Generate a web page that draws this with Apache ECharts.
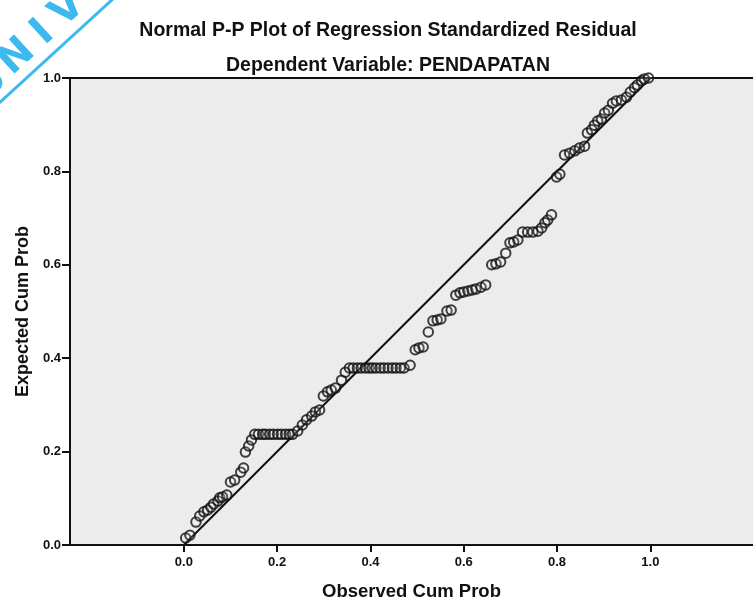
<!DOCTYPE html>
<html>
<head>
<meta charset="utf-8">
<script src="https://cdn.jsdelivr.net/npm/echarts@6/dist/echarts.min.js"></script>
<style>
html,body{margin:0;padding:0;background:#fff;}
#main{width:753px;height:599px;}
</style>
</head>
<body>
<div id="main"></div>
<script>
var titleText = "Normal P-P Plot of Regression Standardized Residual";
var subtitleText = "Dependent Variable: PENDAPATAN";
var xAxisName = "Observed Cum Prob";
var yAxisName = "Expected Cum Prob";
var tickValues = [0, 0.2, 0.4, 0.6, 0.8, 1.0];

var observedCumProb = [
  0.004,0.013,0.026,0.034,0.043,0.051,0.058,0.064,0.073,0.077,0.083,0.092,0.100,0.109,0.122,0.128,0.132,0.139,0.145,
  0.152,0.160,0.169,0.175,0.184,0.192,0.201,0.209,0.218,0.226,0.233,
  0.244,0.254,0.263,0.274,0.282,0.291,0.299,0.308,0.316,0.325,0.338,0.346,
  0.355,0.363,0.372,0.380,0.389,0.397,0.404,0.412,0.421,0.429,0.438,0.447,0.455,0.464,0.472,
  0.485,0.496,0.504,0.513,0.524,0.534,0.543,0.551,0.564,0.573,0.583,0.592,0.600,0.609,0.618,0.626,0.637,0.647,
  0.660,0.669,0.679,0.690,0.699,0.707,0.716,0.726,0.737,0.748,0.759,0.767,0.774,0.780,0.788,
  0.799,0.806,0.816,0.827,0.838,0.848,0.859,0.865,0.874,0.880,0.887,0.895,0.902,0.910,0.919,0.927,0.938,0.949,0.957,0.966,0.972,0.981,0.987,0.996
];
var expectedCumProb = [
  0.015,0.021,0.049,0.062,0.071,0.075,0.081,0.088,0.094,0.101,0.103,0.107,0.135,0.139,0.156,0.165,0.199,0.212,0.225,
  0.237,0.237,0.237,0.237,0.237,0.237,0.237,0.237,0.237,0.237,0.237,
  0.244,0.257,0.268,0.276,0.285,0.289,0.319,0.328,0.332,0.336,0.353,0.370,
  0.379,0.379,0.379,0.379,0.379,0.379,0.379,0.379,0.379,0.379,0.379,0.379,0.379,0.379,0.379,
  0.385,0.418,0.422,0.424,0.456,0.480,0.482,0.484,0.501,0.503,0.535,0.540,0.542,0.544,0.546,0.548,0.552,0.557,
  0.600,0.602,0.606,0.625,0.647,0.649,0.653,0.670,0.670,0.670,0.672,0.679,0.690,0.696,0.707,
  0.788,0.794,0.835,0.839,0.844,0.850,0.854,0.882,0.889,0.899,0.908,0.912,0.925,0.931,0.946,0.951,0.953,0.959,0.970,0.979,0.985,0.994,0.998,1.000
];
var refLine = [[0, 0], [1, 1]];
var watermarkLetters = ["U", "N", "I", "V"];

var points = observedCumProb.map(function (x, i) { return [x, expectedCumProb[i]]; });

var chart = echarts.init(document.getElementById('main'), null, {renderer: 'canvas'});
var font = '"Liberation Sans", Arial, sans-serif';
var wmPos = [[-10, 84], [17, 57], [43, 33], [68, 10]];

chart.setOption({
  animation: false,
  backgroundColor: '#ffffff',
  title: [
    {text: titleText, left: 383, top: 16, textAlign: 'center',
     textStyle: {fontFamily: font, fontWeight: 'bold', fontSize: 19.5, color: '#111'}},
    {text: subtitleText, left: 383, top: 51, textAlign: 'center',
     textStyle: {fontFamily: font, fontWeight: 'bold', fontSize: 19.5, color: '#111'}}
  ],
  grid: {left: 70, right: 0, top: 78, bottom: 54, show: true, backgroundColor: '#ececec', borderWidth: 0,
         containLabel: false, outerBoundsMode: 'none'},
  xAxis: [{
    type: 'value', min: -0.244, max: 1.22, position: 'bottom',
    name: xAxisName, nameLocation: 'middle', nameGap: 37,
    nameTextStyle: {fontFamily: font, fontWeight: 'bold', fontSize: 18.5, color: '#111'},
    axisLine: {show: true, onZero: false, lineStyle: {color: '#111', width: 2}},
    axisTick: {show: true, length: 7, customValues: tickValues, lineStyle: {color: '#111', width: 2}},
    axisLabel: {customValues: tickValues, formatter: function (v) { return v.toFixed(1); },
      fontFamily: font, fontWeight: 'bold', fontSize: 13, color: '#111', margin: 11},
    splitLine: {show: false}
  }, {
    type: 'value', min: -0.244, max: 1.22, position: 'top',
    axisLine: {show: true, onZero: false, lineStyle: {color: '#111', width: 2}},
    axisTick: {show: false}, axisLabel: {show: false}, splitLine: {show: false}
  }],
  yAxis: {
    type: 'value', min: 0, max: 1, interval: 0.2,
    name: yAxisName, nameLocation: 'middle', nameGap: 34, nameRotate: 90,
    nameTextStyle: {fontFamily: font, fontWeight: 'bold', fontSize: 18, color: '#111'},
    axisLine: {show: true, onZero: false, lineStyle: {color: '#111', width: 2}},
    axisTick: {show: true, length: 8, lineStyle: {color: '#111', width: 2}},
    axisLabel: {formatter: function (v) { return v.toFixed(1); },
      fontFamily: font, fontWeight: 'bold', fontSize: 13, color: '#111', margin: 9},
    splitLine: {show: false}
  },
  series: [{
    type: 'line', data: refLine, showSymbol: false, symbol: 'none',
    lineStyle: {color: '#111', width: 2}, z: 2, silent: true
  }, {
    type: 'scatter', data: points, symbol: 'circle', symbolSize: 9.5,
    itemStyle: {color: 'rgba(255,255,255,0.15)', borderColor: '#111', borderWidth: 2},
    z: 3
  }],
  graphic: [{
    type: 'line', shape: {x1: 114, y1: -2, x2: -2, y2: 104},
    style: {stroke: '#3cb9ef', lineWidth: 3}, z: 100
  }].concat(watermarkLetters.map(function (ch, i) {
    return {
      type: 'text', x: wmPos[i][0], y: wmPos[i][1], rotation: 0.74,
      style: {text: ch, fill: '#3cb9ef', font: 'bold 40px "DejaVu Sans", sans-serif',
        textAlign: 'center', textVerticalAlign: 'middle'},
      z: 100
    };
  }))
});
</script>
</body>
</html>
